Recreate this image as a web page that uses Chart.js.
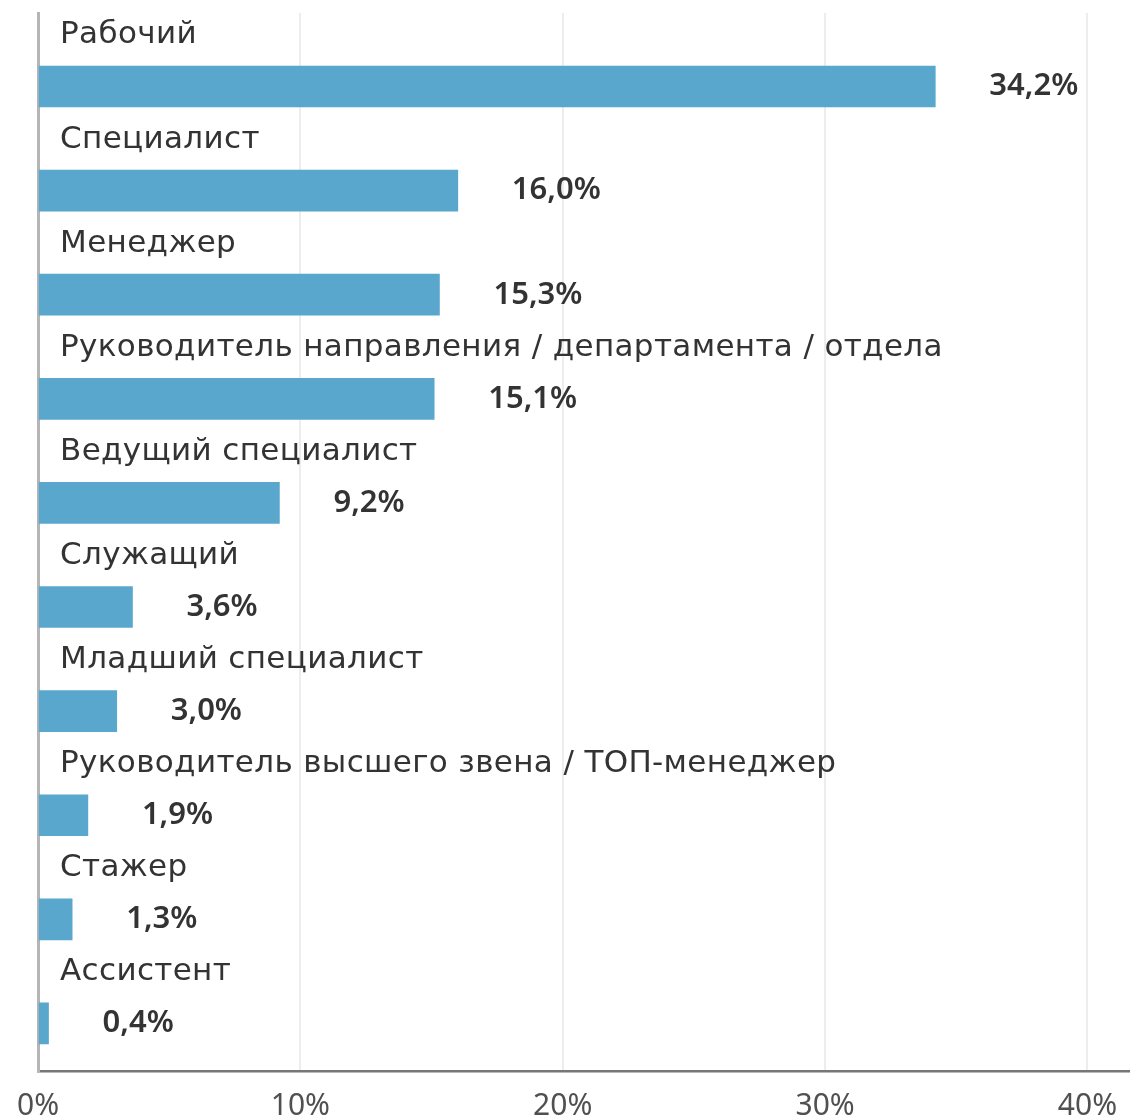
<!DOCTYPE html>
<html>
<head>
<meta charset="utf-8">
<script src="https://cdn.jsdelivr.net/npm/chart.js@4.4.1/dist/chart.umd.min.js"></script>
<style>
  html, body { margin: 0; padding: 0; background: #ffffff; }
  #wrap { width: 1134px; height: 1120px; }
</style>
</head>
<body>
<div id="wrap"><canvas id="chart" width="1134" height="1120"></canvas></div>
<script>
// Должности респондентов, доля в %
const categories = [
  'Рабочий',
  'Специалист',
  'Менеджер',
  'Руководитель направления / департамента / отдела',
  'Ведущий специалист',
  'Служащий',
  'Младший специалист',
  'Руководитель высшего звена / ТОП-менеджер',
  'Стажер',
  'Ассистент'
];
const shares = [34.2, 16.0, 15.3, 15.1, 9.2, 3.6, 3.0, 1.9, 1.3, 0.4];
const xTicks = [0, 10, 20, 30, 40];

const LABEL_FONT = '"DejaVu Sans", sans-serif';
const FONT = '"Noto Sans", sans-serif';
const fmt = v => v.toFixed(1).replace('.', ',') + '%';

// Category name above each bar, value to the right of it
const barLabels = {
  id: 'barLabels',
  afterDatasetsDraw(chart) {
    const { ctx, chartArea } = chart;
    const bars = chart.getDatasetMeta(0).data;
    ctx.save();
    bars.forEach((bar, i) => {
      ctx.fillStyle = '#333333';
      ctx.textAlign = 'left';
      ctx.textBaseline = 'alphabetic';
      ctx.font = '400 31px ' + LABEL_FONT;
      if ('letterSpacing' in ctx) ctx.letterSpacing = '0.35px';
      ctx.fillText(categories[i], chartArea.left + 22, bar.y - 43);
      if ('letterSpacing' in ctx) ctx.letterSpacing = '0px';
      ctx.font = '600 31px ' + FONT;
      ctx.textBaseline = 'middle';
      ctx.fillText(fmt(shares[i]), bar.x + 54, bar.y);
    });
    ctx.restore();
  }
};

new Chart(document.getElementById('chart'), {
  type: 'bar',
  data: {
    datasets: [{
      data: shares.map((v, i) => ({ x: v, y: i })),
      backgroundColor: '#59a7cd',
      borderWidth: 0,
      barThickness: 41
    }]
  },
  options: {
    indexAxis: 'y',
    responsive: false,
    animation: false,
    devicePixelRatio: 1,
    layout: { padding: { left: 36, top: 13, right: 0, bottom: 0 } },
    plugins: { legend: { display: false }, tooltip: { enabled: false } },
    scales: {
      x: {
        type: 'linear',
        min: 0,
        max: 41.6,
        afterBuildTicks: s => { s.ticks = xTicks.map(v => ({ value: v })); },
        afterFit: s => { s.height = 49; },
        grid: { color: '#ededed', lineWidth: 2, drawTicks: false },
        border: { color: '#777777', width: 2.5 },
        ticks: {
          padding: 17,
          color: '#505050',
          font: { family: FONT, size: 30, weight: '400' },
          callback: v => v + '%'
        }
      },
      y: {
        type: 'linear',
        reverse: true,
        offset: false,
        min: -0.706,
        max: 9.457,
        grid: { display: false, drawTicks: false, offset: false },
        border: { color: '#b5b5b5', width: 3 },
        ticks: { display: false }
      }
    }
  },
  plugins: [barLabels]
});
</script>
</body>
</html>
